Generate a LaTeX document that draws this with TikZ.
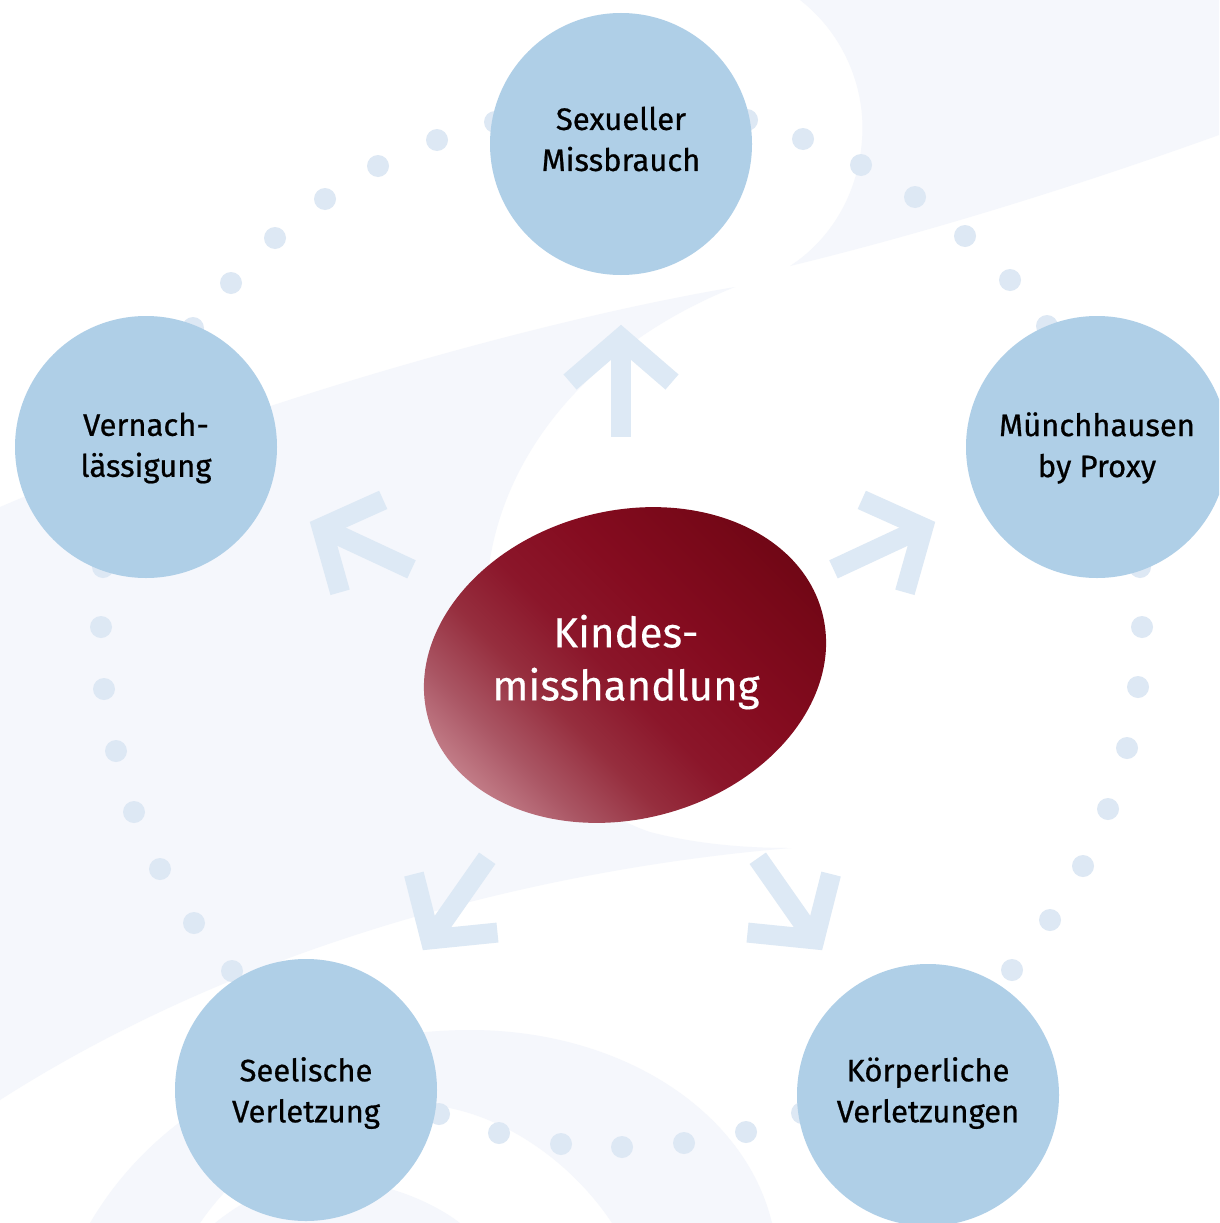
\documentclass[tikz,border=0pt]{standalone}
\usepackage{fontspec}
\setmainfont{Fira Sans}
\newfontfamily\kmfont{Fira Sans}[FakeBold=0.7]
\newfontfamily\kmcfont{Fira Sans}[FakeBold=0.3]
\usetikzlibrary{shapes.geometric}
\definecolor{bgl}{RGB}{245,247,252}
\definecolor{circ}{RGB}{175,207,231}
\definecolor{dotc}{RGB}{221,232,244}
\definecolor{arrc}{RGB}{221,233,245}
\definecolor{k0}{RGB}{210,156,165}
\definecolor{k1}{RGB}{196,128,139}
\definecolor{k2}{RGB}{170,86,100}
\definecolor{k3}{RGB}{150,46,62}
\definecolor{k4}{RGB}{139,22,42}
\definecolor{k5}{RGB}{133,12,32}
\definecolor{k6}{RGB}{119,8,24}
\definecolor{k7}{RGB}{104,5,18}
\pgfdeclarehorizontalshading{kgrad}{100bp}{color(0bp)=(k0); color(20bp)=(k0); color(25bp)=(k1); color(32bp)=(k2); color(40bp)=(k3); color(48bp)=(k4); color(58bp)=(k5); color(70bp)=(k6); color(80bp)=(k7); color(100bp)=(k7)}
\newcommand{\kmchev}[3]{%
  \begin{scope}[shift={(#1,#2)}, rotate=#3]
    \draw[chev] (-57,51) -- (-13,0) -- (-57,-51);
    \draw[chev] (-13,0) -- (-112,0);
  \end{scope}}
\begin{document}
\begin{tikzpicture}[x=1pt,y=-1pt,
  bubble/.style={circle, fill=circ, minimum size=262pt, inner sep=0pt},
  btext/.style={align=center, text=black, inner sep=0pt, font=\kmfont\fontsize{31}{41}\selectfont},
  dotnode/.style={circle, fill=dotc, minimum size=22pt, inner sep=0pt},
  chev/.style={draw=arrc, line width=20pt, miter limit=10, line join=miter, line cap=butt}]
\useasboundingbox (0,0) rectangle (1219,1223);
\fill[white] (0,0) rectangle (1219,1223);
\begin{scope}
\clip (0,0) rectangle (1219,1223);
% background swooshes
\fill[bgl] (800,0) .. controls (845,35) and (866,90) .. (862,140) .. controls (858,195) and (830,240) .. (790,266) .. controls (930,232) and (1080,185) .. (1219,135) -- (1219,0) -- cycle;
\fill[bgl] (0,507) .. controls (250,400) and (550,318) .. (735,287) .. controls (590,345) and (490,460) .. (486,600) .. controls (484,720) and (570,805) .. (650,832) .. controls (700,845) and (750,848) .. (791,848) .. controls (550,868) and (250,940) .. (0,1100) -- cycle;
\fill[bgl] (90,1223) .. controls (180,1070) and (360,1030) .. (470,1030) .. controls (620,1030) and (745,1110) .. (772,1223) -- (612,1223) .. controls (570,1160) and (500,1112) .. (430,1105) .. controls (340,1098) and (250,1150) .. (200,1223) -- cycle;
\fill[bgl] (215,1223) .. controls (250,1195) and (285,1180) .. (330,1180) .. controls (380,1180) and (430,1200) .. (460,1223) -- cycle;
% dots
\foreach \x/\y [count=\i] in {495/122, 437/140, 378/166, 325/199, 275/238, 231/283, 193/328,
  747/120, 803/139, 861/165, 915/197, 965/236, 1010/280, 1047/326,
  1140/567, 1142/627, 1138/687, 1127/748, 1108/809, 1083/866, 1050/920, 1012/970,
  103/567, 101/627, 104/689, 116/751, 134/812, 160/869, 194/923, 232/971,
  439/1114, 499/1133, 561/1144, 622/1147, 684/1143, 746/1132, 802/1113}
  \node[dotnode] (d\i) at (\x,\y) {};
% chevron arrows
\kmchev{621}{325}{90}
\kmchev{310}{522}{155}
\kmchev{935}{522}{25}
\kmchev{423}{950}{235}
\kmchev{822}{950}{-55}
% outer circles
\node[bubble] (sex) at (621,144) {};
\node[bubble] (vern) at (146,447) {};
\node[bubble] (muen) at (1097,447) {};
\node[bubble] (seel) at (306,1090) {};
\node[bubble] (koer) at (928,1095) {};
\node[btext] (sext) at (621,139) {Sexueller\\Missbrauch};
\node[btext] (vernt) at (146,448) {Vernach-\\lässigung};
\node[btext] (muent) at (1097,448) {Münchhausen\\by Proxy};
\node[btext] (seelt) at (306,1093) {Seelische\\Verletzung};
\node[btext] (koert) at (928,1093) {Körperliche\\Verletzungen};
% centre
\shade[shading=kgrad, shading angle=45] (625,665) ellipse [x radius=204pt, y radius=154pt, rotate=15];
\node[text=white, align=center, font=\kmcfont\fontsize{42}{53}\selectfont] (kern) at (626,662) {Kindes-\\misshandlung};
\end{scope}
\end{tikzpicture}
\end{document}
